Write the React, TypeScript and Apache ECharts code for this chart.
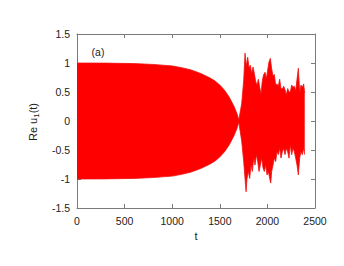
import React, { useEffect, useRef } from "react";
import * as echarts from "echarts";

// Smooth (regular) regime: envelope of the fast oscillation
const smoothT = [0, 300, 600, 800, 1000, 1100, 1200, 1300, 1400, 1450, 1500, 1550, 1600, 1650, 1680, 1700];
const smoothUpper = [1.0, 0.998, 0.99, 0.975, 0.95, 0.92, 0.88, 0.82, 0.74, 0.69, 0.62, 0.53, 0.41, 0.25, 0.13, 0.02];
const smoothLower = [-1.0, -0.998, -0.99, -0.975, -0.95, -0.92, -0.88, -0.82, -0.74, -0.69, -0.62, -0.53, -0.41, -0.25, -0.13, -0.02];

// Irregular regime: upper envelope
const chaosTopT = [1702, 1730, 1751, 1765, 1779, 1793, 1807, 1821, 1835, 1849, 1863, 1877, 1891, 1905, 1919, 1933, 1947, 1961, 1975, 1989, 2003, 2017, 2031, 2045, 2059, 2073, 2087, 2101, 2115, 2129, 2143, 2157, 2171, 2185, 2199, 2213, 2227, 2241, 2255, 2269, 2283, 2297, 2311, 2325, 2339, 2353, 2367, 2381, 2392];
const chaosTop = [0.01, 0.3, 0.7, 1.17, 0.95, 1.1, 0.92, 0.96, 0.82, 0.93, 0.82, 0.68, 0.62, 0.72, 0.58, 0.47, 0.7, 0.8, 0.84, 0.73, 0.88, 1.02, 1.08, 0.9, 0.78, 0.8, 0.62, 0.64, 0.6, 0.72, 0.56, 0.55, 0.6, 0.54, 0.45, 0.56, 0.5, 0.5, 0.62, 0.58, 0.6, 0.52, 0.72, 0.91, 0.5, 0.62, 0.58, 0.64, 0.48];

// Irregular regime: lower envelope
const chaosBotT = [1702, 1730, 1751, 1765, 1776, 1786, 1800, 1814, 1828, 1842, 1856, 1870, 1884, 1898, 1912, 1926, 1940, 1954, 1968, 1982, 1996, 2010, 2024, 2035, 2045, 2059, 2073, 2087, 2101, 2115, 2129, 2143, 2157, 2171, 2185, 2199, 2213, 2227, 2241, 2255, 2269, 2283, 2297, 2311, 2325, 2339, 2353, 2367, 2381, 2392];
const chaosBot = [-0.02, -0.35, -0.7, -0.99, -1.22, -0.99, -0.87, -0.99, -0.76, -0.87, -0.64, -0.76, -0.58, -0.7, -0.87, -0.76, -0.64, -0.81, -0.87, -0.76, -0.93, -0.87, -0.99, -1.07, -0.87, -0.76, -0.64, -0.7, -0.53, -0.58, -0.47, -0.64, -0.53, -0.47, -0.58, -0.47, -0.53, -0.64, -0.41, -0.58, -0.47, -0.53, -0.64, -0.76, -0.93, -0.64, -0.53, -0.58, -0.47, -0.58];

const xTicks = { min: 0, max: 2500, interval: 500 };
const yTicks = { min: -1.5, max: 1.5, interval: 0.5 };

const AXIS_COLOR = "#7a7a7a";
const TEXT_COLOR = "#222";
const FONT = "'Liberation Sans', Arial, sans-serif";

export default function App() {
  const ref = useRef<HTMLDivElement>(null);
  useEffect(() => {
    const chart = echarts.init(ref.current!, undefined, { renderer: "svg" });
    const upper = smoothT.map((t, i) => [t, smoothUpper[i]]).concat(chaosTopT.map((t, i) => [t, chaosTop[i]]));
    const lower = smoothT.map((t, i) => [t, smoothLower[i]]).concat(chaosBotT.map((t, i) => [t, chaosBot[i]]));
    const axisCommon = {
      type: "value" as const,
      axisLine: { show: true, onZero: false, lineStyle: { color: AXIS_COLOR, width: 1 } },
      axisTick: { show: true, inside: true, length: 4, lineStyle: { color: AXIS_COLOR } },
      splitLine: { show: false },
    };
    const bandSeries = (name: string, data: number[][]) => ({
      name,
      type: "line",
      data,
      symbol: "none",
      showSymbol: false,
      smooth: false,
      lineStyle: { color: "#f01010", width: 0.8 },
      areaStyle: { color: "#ff0000", opacity: 1, origin: 0 },
      z: 2,
    });
    const labelStyle = { show: true, color: TEXT_COLOR, fontSize: 10.5, margin: 7, fontFamily: FONT, formatter: (v: number) => String(v) };
    chart.setOption({
      animation: false,
      textStyle: { fontFamily: FONT },
      grid: { left: 77, right: 29, top: 34, bottom: 58, containLabel: false },
      xAxis: [
        { ...axisCommon, position: "bottom", ...xTicks, axisLabel: labelStyle },
        { ...axisCommon, position: "top", ...xTicks, axisLabel: { show: false } },
      ],
      yAxis: [
        { ...axisCommon, position: "left", ...yTicks, axisLabel: labelStyle },
        { ...axisCommon, position: "right", ...yTicks, axisLabel: { show: false } },
      ],
      series: [bandSeries("upper", upper), bandSeries("lower", lower)],
      graphic: [
        {
          type: "text",
          x: 33,
          y: 122,
          rotation: Math.PI / 2,
          style: {
            text: "{a|Re u}{b|1}{a|(t)}",
            align: "center",
            verticalAlign: "middle",
            fill: TEXT_COLOR,
            rich: {
              a: { fontSize: 11, fontFamily: FONT, fill: TEXT_COLOR, lineHeight: 15, verticalAlign: "middle" },
              b: { fontSize: 8, fontFamily: FONT, fill: TEXT_COLOR, lineHeight: 15, verticalAlign: "bottom" },
            },
          },
        },
        {
          type: "text",
          x: 196,
          y: 236,
          style: { text: "t", align: "center", verticalAlign: "middle", fontSize: 11, fontFamily: FONT, fill: TEXT_COLOR },
        },
        {
          type: "text",
          x: 98,
          y: 52,
          style: { text: "(a)", align: "center", verticalAlign: "middle", fontSize: 10.5, fontFamily: FONT, fill: TEXT_COLOR },
        },
      ],
    });
    return () => chart.dispose();
  }, []);
  return <div ref={ref} style={{ position: "fixed", left: 0, top: 0, width: 344, height: 266, background: "#fff" }} />;
}
